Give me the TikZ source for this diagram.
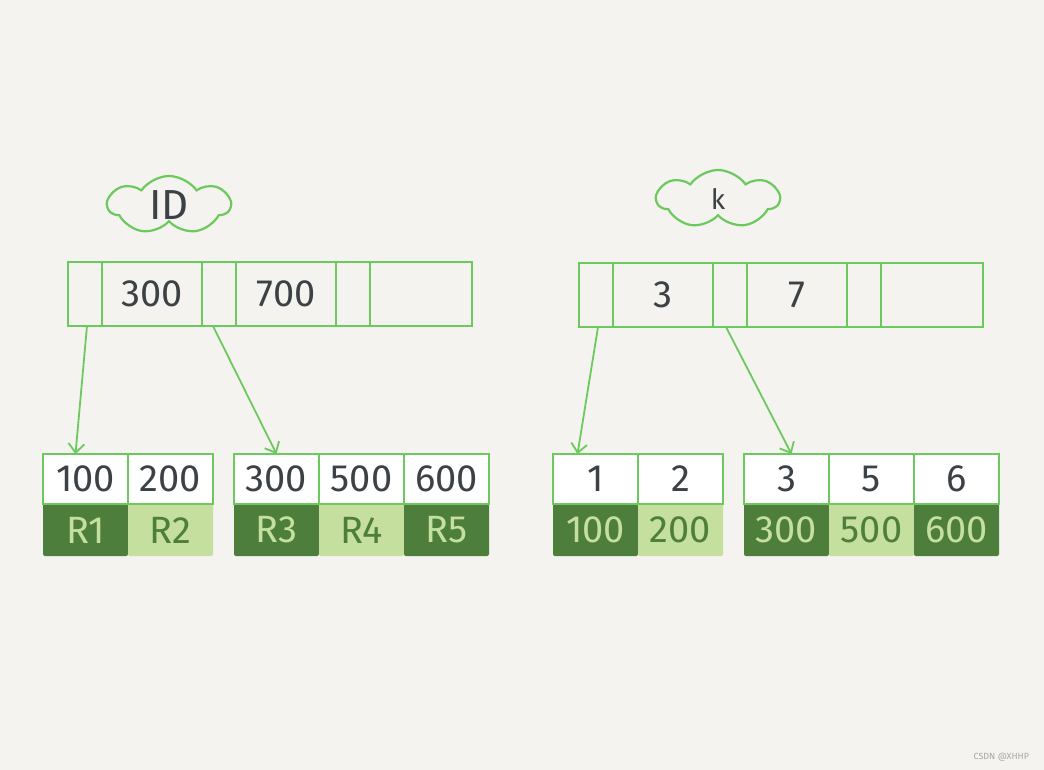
\documentclass[tikz,border=0pt]{standalone}
\usepackage{fontspec}
\setmainfont{Fira Sans}
\usetikzlibrary{positioning,backgrounds,shapes.symbols,arrows.meta}
\definecolor{paper}{HTML}{F4F3EF}
\definecolor{edge}{HTML}{6CC95E}
\definecolor{ink}{HTML}{3C4146}
\definecolor{dkleaf}{HTML}{4E7E3B}
\definecolor{ltleaf}{HTML}{C4DF9E}

\begin{document}
\begin{tikzpicture}[x=1pt, y=-1pt, every node/.style={inner sep=0pt, outer sep=0pt, rectangle},
  idxcell/.style={draw=edge, line width=1.8pt, minimum height=64pt, text=ink, font=\fontsize{38}{40}\selectfont},
  ptr/.style={idxcell, minimum width=34pt},
  keycell/.style={idxcell, minimum width=100pt},
  leafkey/.style={draw=edge, fill=white, line width=1.8pt, minimum width=85pt, minimum height=50pt, text=ink, font=\fontsize{38}{40}\selectfont},
  leafrow/.style={minimum width=85pt, minimum height=52pt, rounded corners=2pt, font=\fontsize{38}{40}\selectfont},
  dkrow/.style={leafrow, fill=dkleaf, text=ltleaf},
  ltrow/.style={leafrow, fill=ltleaf, text=dkleaf},
  tag/.style={cloud, draw=edge, line width=2.2pt, cloud puffs=7, cloud puff arc=110, aspect=2, minimum width=122pt, minimum height=58pt, text=ink},
  link/.style={draw=edge, line width=1.8pt, line cap=round, -{Straight Barb[length=9pt, width=16pt]}}]

\node[tag, font=\fontsize{42}{44}\selectfont] (idtag) at (169,205) {ID};
\node[tag, font=\fontsize{28}{30}\selectfont] (ktag) at (718,199) {k};

\node[ptr, anchor=west] (LP0) at (68,294) {};
\node[keycell, right=0pt of LP0] (L300) {300};
\node[ptr, right=0pt of L300] (LP1) {};
\node[keycell, right=0pt of LP1] (L700) {700};
\node[ptr, right=0pt of L700] (LP2) {};
\node[keycell, right=0pt of LP2, minimum width=102pt] (LK3) {};

\node[ptr, anchor=west] (RP0) at (579,295) {};
\node[keycell, right=0pt of RP0] (R3) {3};
\node[ptr, right=0pt of R3] (RP1) {};
\node[keycell, right=0pt of RP1] (R7) {7};
\node[ptr, right=0pt of R7] (RP2) {};
\node[keycell, right=0pt of RP2, minimum width=102pt] (RK3) {};

\node[leafkey, anchor=north west] (L100) at (43,454) {100};
\node[leafkey, right=0pt of L100] (L200) {200};
\node[leafkey, anchor=north west] (L300b) at (234,454) {300};
\node[leafkey, right=0pt of L300b] (L500) {500};
\node[leafkey, right=0pt of L500] (L600) {600};

\node[leafkey, anchor=north west] (K1) at (553,454) {1};
\node[leafkey, right=0pt of K1] (K2) {2};
\node[leafkey, anchor=north west] (K3) at (744,454) {3};
\node[leafkey, right=0pt of K3] (K5) {5};
\node[leafkey, right=0pt of K5] (K6) {6};

\begin{scope}[on background layer]
  \fill[paper] (0,0) rectangle (1044,770);
  \node[dkrow, below=0pt of L100] (RR1) {R1};
  \node[ltrow, below=0pt of L200] (RR2) {R2};
  \node[dkrow, below=0pt of L300b] (RR3) {R3};
  \node[ltrow, below=0pt of L500] (RR4) {R4};
  \node[dkrow, below=0pt of L600] (RR5) {R5};
  \node[dkrow, below=0pt of K1] (V100) {100};
  \node[ltrow, below=0pt of K2] (V200) {200};
  \node[dkrow, below=0pt of K3] (V300) {300};
  \node[ltrow, below=0pt of K5] (V500) {500};
  \node[dkrow, below=0pt of K6] (V600) {600};
\end{scope}

\draw[link] ([xshift=2pt]LP0.south) -- ([xshift=-10pt]L100.north);
\draw[link] ([xshift=-6pt]LP1.south) -- (L300b.north);
\draw[link] ([xshift=2pt]RP0.south) -- ([xshift=-18pt]K1.north);
\draw[link] ([xshift=-4pt]RP1.south) -- ([xshift=5pt]K3.north);

\node[anchor=east, text=gray!70, font=\fontsize{9}{10}\selectfont] (mark) at (1029,757) {CSDN @XHHP};
\end{tikzpicture}
\end{document}
